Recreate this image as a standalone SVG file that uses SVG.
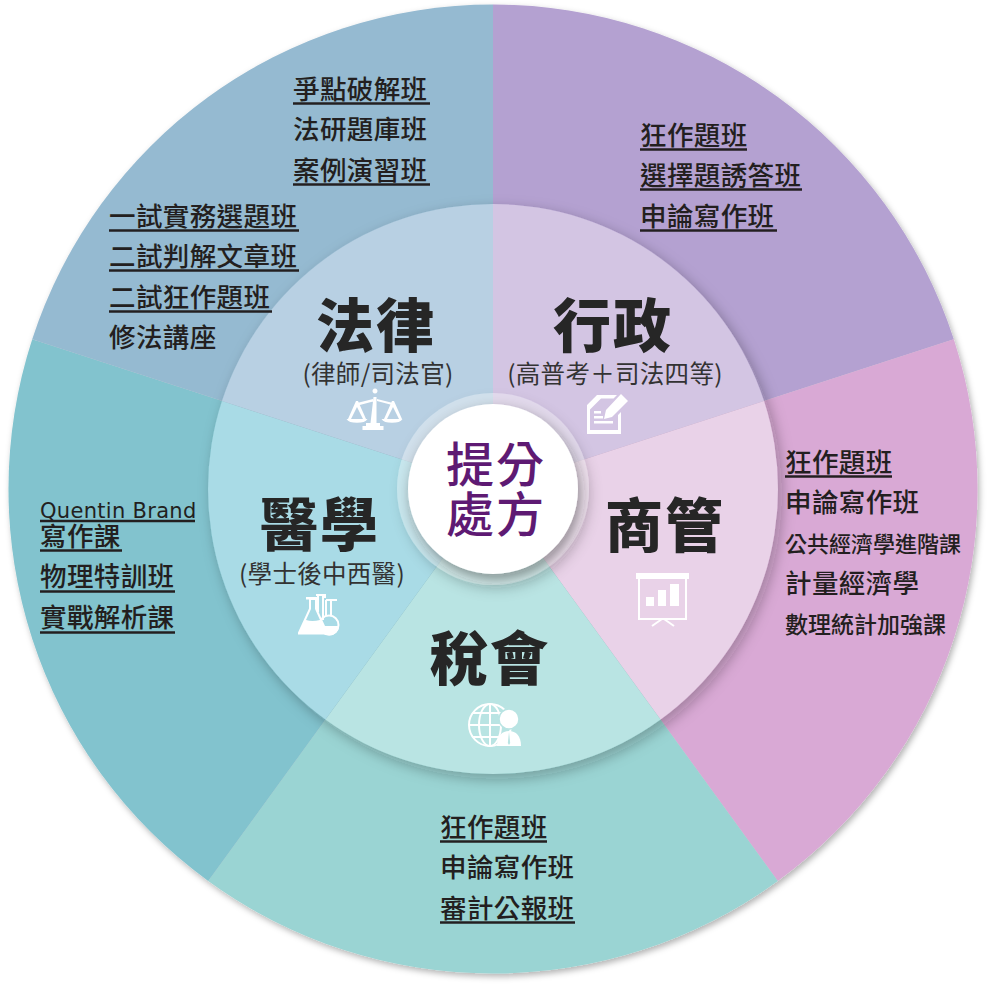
<svg xmlns="http://www.w3.org/2000/svg" width="997" height="997" viewBox="0 0 997 997">
<defs>
<filter id="s1" x="-10%" y="-10%" width="120%" height="120%"><feDropShadow dx="2" dy="3" stdDeviation="3" flood-color="#000" flood-opacity="0.3"/></filter>
<filter id="s2" x="-15%" y="-15%" width="130%" height="130%"><feDropShadow dx="4" dy="5" stdDeviation="7" flood-color="#222" flood-opacity="0.3"/></filter>
<filter id="s3" x="-30%" y="-30%" width="160%" height="160%"><feDropShadow dx="3" dy="6" stdDeviation="6" flood-color="#222" flood-opacity="0.4"/></filter>
</defs>
<style>
text{font-family:"Noto Sans CJK TC","Noto Sans CJK SC",sans-serif;fill:#231f20}
.l{font-size:26.500px;letter-spacing:.4px;font-weight:500}
.m{font-size:22px;letter-spacing:0;font-weight:500}
.n{font-size:23px;letter-spacing:0;font-weight:500}
.q{font-family:"DejaVu Sans","Noto Sans CJK TC",sans-serif;font-size:21px;letter-spacing:.3px}
.t{font-size:58px;font-weight:900;letter-spacing:2px;text-anchor:middle;fill:#262626}
.u{font-size:24.500px;letter-spacing:.3px;text-anchor:middle;fill:#333}
.c{font-size:48px;font-weight:500;letter-spacing:2px;text-anchor:middle;fill:#5e1a73}
.ul{stroke:#231f20;stroke-width:2.400;fill:none}
.w{fill:#fff;stroke:none}
.ws{fill:none;stroke:#fff;stroke-width:2}
</style>

<g id="outer-ring" filter="url(#s1)">
<path id="outer-xingzheng" fill="#b4a1d1" d="M493 489V4.500A484.500 484.500 0 0 1 953.800 339.300Z"/>
<path id="outer-shangguan" fill="#d9a9d5" d="M493 489L953.800 339.300A484.500 484.500 0 0 1 777.800 881Z"/>
<path id="outer-shuihui" fill="#9ad4d3" d="M493 489L777.800 881A484.500 484.500 0 0 1 208.200 881Z"/>
<path id="outer-yixue" fill="#82c3ce" d="M493 489L208.200 881A484.500 484.500 0 0 1 32.200 339.300Z"/>
<path id="outer-falv" fill="#95bad1" d="M493 489L32.200 339.300A484.500 484.500 0 0 1 493 4.500Z"/>
</g>

<g id="inner-ring" filter="url(#s2)">
<path fill="#d3c5e3" d="M493 489V204A285 285 0 0 1 764 401Z"/>
<path fill="#e9d2e8" d="M493 489L764 401A285 285 0 0 1 660.500 719.600Z"/>
<path fill="#b9e4e3" d="M493 489L660.500 719.600A285 285 0 0 1 325.500 719.600Z"/>
<path fill="#a9dbe6" d="M493 489L325.500 719.600A285 285 0 0 1 222 401Z"/>
<path fill="#b8d0e3" d="M493 489L222 401A285 285 0 0 1 493 204Z"/>
</g>

<g id="node-falv">
<text class="t" x="376" y="347">法律</text>
<text class="u" x="378" y="383">(律師/司法官)</text>
<g id="icon-scale">
<path class="w" d="M375 393.500a2.500 2.500 0 1 1 .01 0ZM373.500 397h3v26h3.500v3h3.500v4h-21v-4h3.500v-3h4.500ZM355 403.500L373 399v2.500L356 406ZM377 399l18 4.500-1 2-17-4.500Z"/>
<path class="w" fill-rule="evenodd" d="M356 401l2 0 8 18h1.500a11 5.500 0 0 1-21 0h1.500ZM357 407l-6 12h12ZM392 401l2 0 8 18h.500a11 5.500 0 0 1-21 0h2.500ZM393 407l-6 12h12Z"/>
</g>
</g>

<g id="node-xingzheng">
<text class="t" x="613" y="347">行政</text>
<text class="u" x="615" y="383">(高普考＋司法四等)</text>
<g id="icon-note">
<path class="w" fill-rule="evenodd" d="M597 395h20l-3.500 3.500h-12.500l-11 11v20.500h28v-15l3-3v22h-34v-29ZM594 411h7v2.500h-7ZM594 416h9v2.500h-9ZM594 421h19v2.500h-19Z"/>
<path class="w" d="M621 394l7 7-16 16-8 2 2-9Z"/>
</g>
</g>

<g id="node-shangguan">
<text class="t" x="665" y="547">商管</text>
<g id="icon-board">
<path class="w" d="M636 573h53v6h-53ZM646 597h8v9h-8ZM658 590h8v16h-8ZM670 584h9v22h-9Z"/>
<path class="ws" d="M639 578v41h47v-41M662 619l-10 7M664 619l10 7"/>
</g>
</g>

<g id="node-shuihui">
<text class="t" x="490" y="680">稅會</text>
<g id="icon-globe">
<circle class="ws" cx="490" cy="725" r="21"/>
<ellipse class="ws" cx="490" cy="725" rx="11" ry="21"/>
<path class="ws" d="M490 704v42M473 713h34M469 725h42M473 737h34"/>
<circle cx="509" cy="719" r="10" fill="#fff" stroke="#b9e4e3" stroke-width="1.500"/>
<path class="w" stroke="#b9e4e3" d="M497 746c0-10 5-15 12-15s12 5 12 15Z"/>
<path d="M509 732l-1.200 11 1.200 2 1.200-2Z" fill="#b9e4e3"/>
</g>
</g>

<g id="node-yixue">
<text class="t" x="320" y="546">醫學</text>
<text class="u" x="322" y="583">(學士後中西醫)</text>
<g id="icon-flask">
<path class="w" fill-rule="evenodd" d="M306 597h13v2.500h-2v9l11 24v2h-30v-2l11-24v-9h-3ZM311 600v9l-5 11q6 2 14 0l-5-11v-9Z"/>
<path class="ws" stroke-width="1.500" d="M316 595h9v3M318 596v16M323 596v24M326 600h11"/>
<circle class="ws" cx="329" cy="625" r="9.500"/>
<path class="w" d="M320 626h19a9.500 9.500 0 0 1-19 0ZM325 600v16h2v-16ZM332 600v16h-2v-16Z"/>
</g>
</g>

<g id="node-center">
<circle cx="493" cy="489" r="96" fill="#fff" fill-opacity=".35" filter="url(#s3)"/>
<circle cx="493" cy="489" r="85" fill="#fff" filter="url(#s3)"/>
<text class="c" x="496" y="482">提分</text>
<text class="c" x="496" y="532">處方</text>
</g>

<g id="list-falv">
<text class="l" x="293" y="99">爭點破解班</text><path class="ul" d="M293 103.500H430"/>
<text class="l" x="293" y="139">法研題庫班</text>
<text class="l" x="293" y="180">案例演習班</text><path class="ul" d="M293 184.500H430"/>
<text class="l" x="109" y="226">一試實務選題班</text><path class="ul" d="M109 230.500H299"/>
<text class="l" x="109" y="266">二試判解文章班</text><path class="ul" d="M109 270.500H299"/>
<text class="l" x="109" y="307">二試狂作題班</text><path class="ul" d="M109 311.500H272"/>
<text class="l" x="109" y="347">修法講座</text>
</g>
<g id="list-xingzheng">
<text class="l" x="640" y="145">狂作題班</text><path class="ul" d="M640 149.500H747"/>
<text class="l" x="640" y="185">選擇題誘答班</text><path class="ul" d="M640 189.500H802"/>
<text class="l" x="640" y="226">申論寫作班</text><path class="ul" d="M640 230.500H777"/>
</g>
<g id="list-shangguan">
<text class="l" x="785" y="472">狂作題班</text><path class="ul" d="M785 476.500H892"/>
<text class="l" x="785" y="512">申論寫作班</text>
<text class="m" x="785" y="552">公共經濟學進階課</text>
<text class="l" x="785" y="593">計量經濟學</text>
<text class="n" x="785" y="633">數理統計加強課</text>
</g>
<g id="list-shuihui">
<text class="l" x="440" y="837">狂作題班</text><path class="ul" d="M440 841.500H547"/>
<text class="l" x="440" y="877">申論寫作班</text>
<text class="l" x="440" y="918">審計公報班</text><path class="ul" d="M440 922.500H575"/>
</g>
<g id="list-yixue">
<text class="q" x="40" y="518">Quentin Brand</text><path class="ul" d="M40 521H195"/>
<text class="l" x="40" y="546">寫作課</text><path class="ul" d="M40 550.500H122"/>
<text class="l" x="40" y="586">物理特訓班</text><path class="ul" d="M40 591.500H175"/>
<text class="l" x="40" y="627">實戰解析課</text><path class="ul" d="M40 632.500H175"/>
</g>
</svg>
